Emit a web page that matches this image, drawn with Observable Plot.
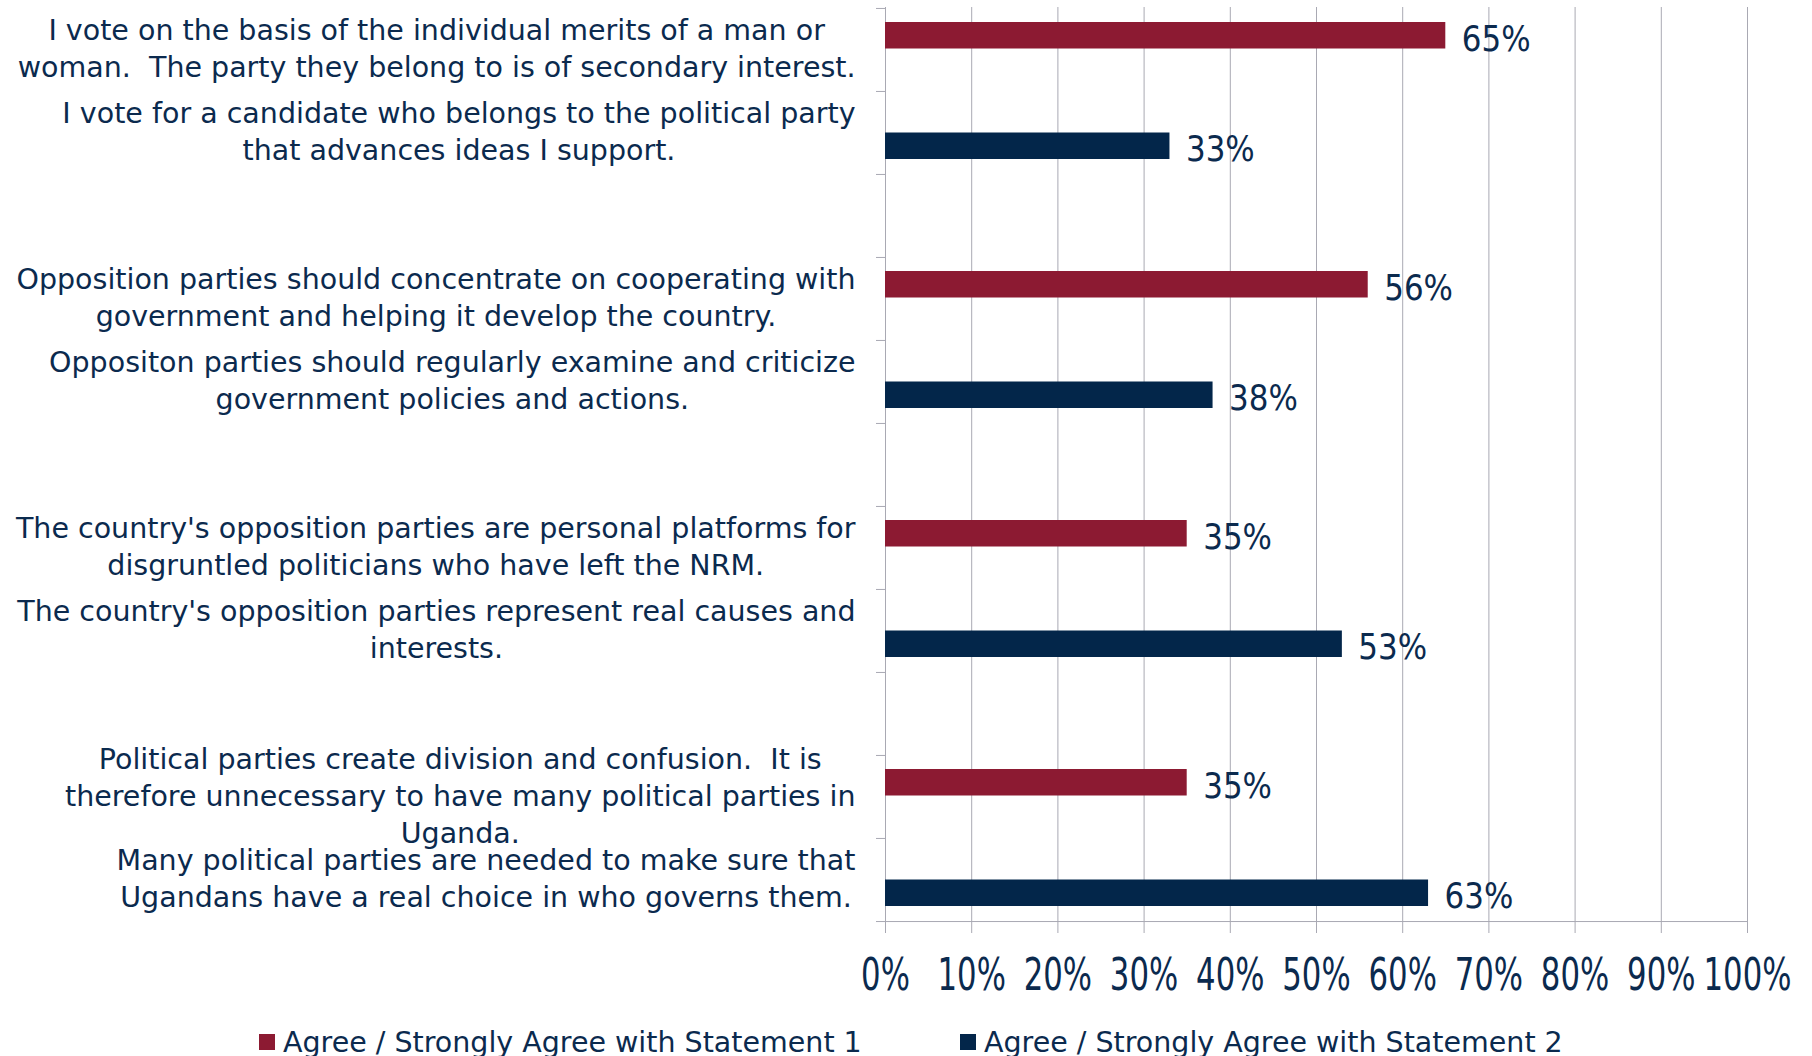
<!DOCTYPE html>
<html><head><meta charset="utf-8">
<script src="https://cdn.jsdelivr.net/npm/d3@7"></script>
<script src="https://cdn.jsdelivr.net/npm/@observablehq/plot@0.6"></script>
<style>
body{margin:0;background:#fff;}
#legend{position:relative;height:36px;margin-top:4px;font-family:"DejaVu Sans";font-size:28.5px;color:#0b2a4e;white-space:nowrap;}
.item{position:absolute;top:0;height:36px;display:flex;align-items:center;}
.sw{width:16px;height:16px;margin-right:8px;}
</style></head><body>
<div id="chart"></div>
<div id="legend"></div>
<script>
const statements = [
  "I vote on the basis of the individual merits of a man or\nwoman.  The party they belong to is of secondary interest.",
  "I vote for a candidate who belongs to the political party\nthat advances ideas I support.",
  "Opposition parties should concentrate on cooperating with\ngovernment and helping it develop the country.",
  "Oppositon parties should regularly examine and criticize\ngovernment policies and actions.",
  "The country's opposition parties are personal platforms for\ndisgruntled politicians who have left the NRM.",
  "The country's opposition parties represent real causes and\ninterests.",
  "Political parties create division and confusion.  It is\ntherefore unnecessary to have many political parties in\nUganda.",
  "Many political parties are needed to make sure that\nUgandans have a real choice in who governs them."
];
const statementSeries = [1, 2, 1, 2, 1, 2, 1, 2];
const values = [65, 33, 56, 38, 35, 53, 35, 63];
const seriesNames = ["Agree / Strongly Agree with Statement 1", "Agree / Strongly Agree with Statement 2"];
const seriesColors = ["#8c1a32", "#03264a"];
const xTicks = [0, 10, 20, 30, 40, 50, 60, 70, 80, 90, 100];

// band domain: statements with an empty spacer band between pairs
const bands = [];
statements.forEach((s, i) => {
  bands.push(s);
  if (i % 2 === 1 && i < statements.length - 1) bands.push(" ".repeat(i));
});
const rows = statements.map((s, i) => ({statement: s, value: values[i], series: statementSeries[i]}));

const W = 1812, H = 1020, mt = 7, mb = 99, ml = 885, mr = 65;
const bw = (H - mt - mb) / bands.length;
const grey = "#a9a9b3", navy = "#0b2a4e";
const labelFont = "DejaVu Sans", labelSize = 28.5;
const valueSize = 36, valueStretch = 0.86;
const tickSize = 44, tickStretch = 0.7;

const ctx = document.createElement("canvas").getContext("2d");
ctx.font = `${labelSize}px "DejaVu Sans"`;
const blockW = s => d3.max(s.split("\n"), l => ctx.measureText(l).width);

const s1 = rows.filter(d => d.series === 1), s2 = rows.filter(d => d.series === 2);

const plot = Plot.plot({
  width: W, height: H, marginTop: mt, marginBottom: mb, marginLeft: ml, marginRight: mr,
  x: {domain: [0, 100], axis: null},
  y: {domain: bands, padding: 0, axis: null},
  marks: [
    Plot.ruleX(xTicks.slice(1), {stroke: grey, strokeWidth: 1}),
    Plot.ruleX([0], {stroke: grey, strokeWidth: 1}),
    Plot.ruleY(bands, {y: d => d, x1: 0, x2: 0, insetLeft: -9, dy: -bw / 2, stroke: grey}),
    Plot.ruleY([bands[bands.length - 1]], {y: d => d, x1: 0, x2: 100, insetLeft: -9, dy: bw / 2, stroke: grey}),
    Plot.barX(s1, {y: "statement", x: "value", fill: seriesColors[0], insetTop: 14, insetBottom: 42.5}),
    Plot.barX(s2, {y: "statement", x: "value", fill: seriesColors[1], insetTop: 41.5, insetBottom: 15}),
    Plot.text(s1, {y: "statement", x: "value", text: d => d.value + "%", dx: 16, dy: -11, textAnchor: "start", fill: navy, fontFamily: "DejaVu Sans", fontSize: valueSize}),
    Plot.text(s2, {y: "statement", x: "value", text: d => d.value + "%", dx: 16, dy: 16, textAnchor: "start", fill: navy, fontFamily: "DejaVu Sans", fontSize: valueSize}),
    ...statements.map(s => Plot.text([s], {
      y: d => d, text: d => d, frameAnchor: "left", textAnchor: "middle",
      dx: -30 - blockW(s) / 2, dy: -3, lineHeight: 37 / labelSize,
      fill: navy, fontFamily: labelFont, fontSize: labelSize
    })),
    Plot.axisX({ticks: xTicks, tickSize: 12, tickPadding: 25, tickFormat: d => d + "%", stroke: grey, fill: navy, fontFamily: "DejaVu Sans", fontSize: tickSize, label: null})
  ]
});
// horizontally condense the numeric texts (narrow face of the original)
plot.querySelectorAll("g[font-size]").forEach(g => {
  const fs = parseFloat(g.getAttribute("font-size"));
  const k = fs === valueSize ? valueStretch : fs === tickSize ? tickStretch : null;
  if (!k) return;
  g.querySelectorAll("text").forEach(t => {
    const tr = t.getAttribute("transform") || "";
    t.setAttribute("transform", `${tr} scale(${k},1)`);
  });
});
document.getElementById("chart").appendChild(plot);

const legend = document.getElementById("legend");
const legendX = [259, 960];
seriesNames.forEach((name, i) => {
  const it = document.createElement("div");
  it.className = "item";
  it.style.left = legendX[i] + "px";
  const sw = document.createElement("div");
  sw.className = "sw";
  sw.style.background = seriesColors[i];
  const tx = document.createElement("span");
  tx.textContent = name;
  it.appendChild(sw); it.appendChild(tx);
  legend.appendChild(it);
});
</script>
</body></html>
